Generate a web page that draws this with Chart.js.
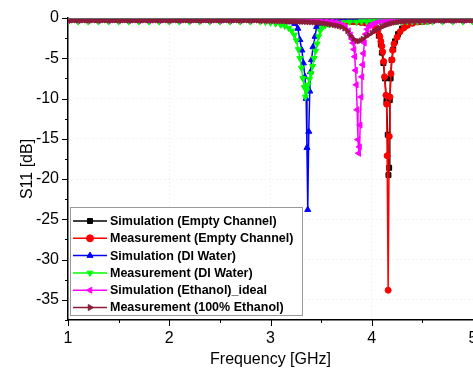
<!DOCTYPE html>
<html lang="en">
<head>
<meta charset="UTF-8">
<title>S11 vs Frequency</title>
<style>
    html, body { margin: 0; padding: 0; background: #fff; overflow: hidden; }
    #wrap { position: relative; width: 473px; height: 378px; overflow: hidden; }
</style>
<script src="https://cdn.jsdelivr.net/npm/chart.js"></script>
</head>
<body>
<div id="wrap"><canvas id="s11Chart" width="473" height="378"></canvas></div>
<script>
// tick positions
const xTicks = [1, 2, 3, 4, 5];
const xMinorTicks = [1.5, 2.5, 3.5, 4.5];
const yTicks = [0, -5, -10, -15, -20, -25, -30, -35];
const yMinorTicks = [-2.5, -7.5, -12.5, -17.5, -22.5, -27.5, -32.5, -37.5];

// Simulation (Empty Channel)
const simEmptyFreq = [1.0,1.1,1.2,1.3,1.4,1.5,1.6,1.7,1.8,1.9,2.0,2.1,2.2,2.3,2.4,2.5,2.6,2.7,2.8,2.9,
    3.0,3.05,3.1,3.15,3.2,3.25,3.3,3.35,3.4,3.45,3.5,3.55,3.6,3.65,3.7,3.75,3.8,3.85,3.9,3.95,
    4.0,4.04,4.07,4.09,4.1,4.115,4.13,4.145,4.158,4.165,4.172,4.178,4.186,4.196,4.212,4.23,4.26,4.3,
    4.35,4.4,4.45,4.5,4.55,4.6,4.7,4.8,4.9,5.0];
const simEmptyS11 = [-0.25,-0.25,-0.25,-0.25,-0.25,-0.25,-0.25,-0.25,-0.25,-0.25,
    -0.25,-0.25,-0.25,-0.25,-0.25,-0.25,-0.25,-0.25,-0.25,-0.25,
    -0.25,-0.25,-0.25,-0.25,-0.25,-0.25,-0.25,-0.25,-0.25,-0.3,-0.3,-0.3,-0.3,-0.35,-0.35,-0.4,-0.45,-0.5,-0.55,-0.65,
    -0.8,-1.3,-2.2,-3.3,-4.3,-5.6,-7.5,-10.3,-14.5,-19.5,-18.6,-10.2,-7.5,-5.2,-3.9,-2.9,-2.0,-1.3,
    -0.9,-0.65,-0.5,-0.45,-0.4,-0.35,-0.3,-0.3,-0.25,-0.25];

// Measurement (Empty Channel)
const measEmptyFreq = [1.0,1.1,1.2,1.3,1.4,1.5,1.6,1.7,1.8,1.9,2.0,2.1,2.2,2.3,2.4,2.5,2.6,2.7,2.8,2.9,
    3.0,3.05,3.1,3.15,3.2,3.25,3.3,3.35,3.4,3.45,3.5,3.55,3.6,3.65,3.7,3.75,3.8,3.85,3.9,3.95,
    4.0,4.03,4.06,4.08,4.09,4.1,4.108,4.118,4.126,4.14,4.147,4.152,4.162,4.173,4.18,4.19,4.2,4.206,
    4.22,4.25,4.28,4.32,4.35,4.4,4.45,4.5,4.55,4.6,4.7,4.8,4.9,5.0];
const measEmptyS11 = [-0.3,-0.3,-0.3,-0.3,-0.3,-0.3,-0.3,-0.3,-0.3,-0.3,
    -0.3,-0.3,-0.3,-0.3,-0.3,-0.3,-0.3,-0.3,-0.3,-0.3,
    -0.3,-0.3,-0.3,-0.3,-0.3,-0.3,-0.3,-0.3,-0.3,-0.3,-0.32,-0.34,-0.36,-0.38,-0.4,-0.42,-0.45,-0.5,-0.55,-0.6,
    -0.7,-1.0,-1.6,-2.3,-2.9,-3.5,-4.2,-5.4,-7.3,-9.6,-10.7,-17.1,-33.8,-14.7,-9.8,-6.9,-5.2,-4.0,
    -3.2,-2.4,-1.7,-1.2,-0.9,-0.65,-0.5,-0.45,-0.4,-0.35,-0.3,-0.3,-0.3,-0.3];

// Simulation (DI Water)
const simWaterFreq = [1.0,1.1,1.2,1.3,1.4,1.5,1.6,1.7,1.8,1.9,2.0,2.1,2.2,2.3,2.4,2.5,2.6,2.7,2.8,2.9,
    3.0,3.05,3.1,3.15,3.2,3.24,3.27,3.29,3.31,3.325,3.34,3.352,3.36,3.368,3.378,3.388,3.395,3.405,
    3.42,3.44,3.455,3.48,3.52,3.56,3.6,3.65,
    3.7,3.75,3.8,3.85,3.9,3.95,4.0,4.05,4.1,4.15,4.2,4.25,4.3,4.35,4.4,4.45,4.5,4.55,4.6,4.7,4.8,4.9,5.0];
const simWaterS11 = [-0.3,-0.3,-0.3,-0.3,-0.3,-0.3,-0.3,-0.3,-0.3,-0.3,
    -0.3,-0.3,-0.3,-0.3,-0.3,-0.3,-0.3,-0.3,-0.3,-0.3,
    -0.3,-0.32,-0.35,-0.4,-0.5,-0.7,-1.3,-2.7,-4.0,-5.6,-7.3,-10.0,-16.1,-23.8,-14.1,-9.1,-6.7,-5.2,
    -3.6,-2.3,-1.1,-0.7,-0.5,-0.42,-0.38,-0.35,
    -0.3,-0.3,-0.3,-0.3,-0.3,-0.3,-0.3,-0.3,-0.3,-0.3,-0.3,-0.3,-0.3,-0.3,-0.3,-0.3,-0.3,-0.3,-0.3,-0.3,-0.3,-0.3,-0.3];

// Measurement (DI Water)
const measWaterFreq = [1.0,1.1,1.2,1.3,1.4,1.5,1.6,1.7,1.8,1.9,2.0,2.1,2.2,2.3,2.4,2.5,2.6,2.7,2.8,2.9,
    2.95,3.0,3.05,3.1,3.14,3.18,3.21,3.235,3.255,3.275,3.29,3.305,3.32,3.333,3.345,3.358,3.37,3.385,3.4,3.415,
    3.43,3.445,3.46,3.475,3.49,3.51,3.54,3.58,3.62,3.67,3.72,3.78,3.85,
    3.9,3.95,4.0,4.05,4.1,4.15,4.2,4.25,4.3,4.35,4.4,4.45,4.5,4.55,4.6,4.7,4.8,4.9,5.0];
const measWaterS11 = [-0.45,-0.45,-0.45,-0.45,-0.45,-0.45,-0.45,-0.45,-0.45,-0.45,
    -0.45,-0.45,-0.45,-0.45,-0.45,-0.45,-0.45,-0.45,-0.45,-0.45,
    -0.5,-0.6,-0.7,-0.85,-1.0,-1.25,-1.6,-2.1,-2.8,-3.9,-5.0,-6.2,-7.5,-8.6,-9.8,-9.0,-8.3,-7.6,-6.9,-6.0,
    -5.0,-4.1,-3.2,-2.3,-1.6,-1.2,-0.95,-0.8,-0.7,-0.6,-0.55,-0.5,-0.5,
    -0.45,-0.45,-0.45,-0.45,-0.45,-0.45,-0.45,-0.45,-0.45,-0.45,-0.45,-0.45,-0.45,-0.45,-0.45,-0.45,-0.45,-0.45,-0.45];

// Simulation (Ethanol)_ideal
const simEthFreq = [1.0,1.1,1.2,1.3,1.4,1.5,1.6,1.7,1.8,1.9,2.0,2.1,2.2,2.3,2.4,2.5,2.6,2.7,2.8,2.9,
    2.95,3.0,3.05,3.1,3.15,3.2,3.25,3.3,3.35,3.4,3.45,3.5,3.55,3.6,
    3.64,3.68,3.71,3.74,3.77,3.79,3.805,3.815,3.825,3.832,3.84,3.848,3.856,3.864,3.872,3.879,3.886,3.895,
    3.903,3.91,3.918,3.928,3.94,3.955,3.975,4.0,4.03,4.07,4.12,4.17,
    4.2,4.25,4.3,4.35,4.4,4.45,4.5,4.55,4.6,4.7,4.8,4.9,5.0];
const simEthS11 = [-0.3,-0.3,-0.3,-0.3,-0.3,-0.3,-0.3,-0.3,-0.3,-0.3,
    -0.3,-0.3,-0.3,-0.3,-0.3,-0.3,-0.3,-0.3,-0.3,-0.3,
    -0.3,-0.3,-0.3,-0.3,-0.3,-0.3,-0.3,-0.3,-0.3,-0.3,-0.3,-0.35,-0.38,-0.45,
    -0.55,-0.7,-0.9,-1.15,-1.6,-2.1,-2.6,-3.1,-3.9,-4.8,-6.5,-8.3,-11.4,-15.1,-16.8,-16.0,-13.3,-9.8,
    -7.3,-5.8,-4.4,-3.1,-2.0,-1.4,-1.0,-0.8,-0.65,-0.5,-0.42,-0.38,
    -0.35,-0.33,-0.3,-0.3,-0.3,-0.3,-0.3,-0.3,-0.3,-0.3,-0.3,-0.3,-0.3];

// Measurement (100% Ethanol) - dense sweep
const measEthFreq = [
    1.0,1.025,1.05,1.075,1.1,1.125,1.15,1.175,1.2,1.225,1.25,1.275,1.3,1.325,1.35,1.375,1.4,1.425,1.45,1.475,
    1.5,1.525,1.55,1.575,1.6,1.625,1.65,1.675,1.7,1.725,1.75,1.775,1.8,1.825,1.85,1.875,1.9,1.925,1.95,1.975,
    2.0,2.025,2.05,2.075,2.1,2.125,2.15,2.175,2.2,2.225,2.25,2.275,2.3,2.325,2.35,2.375,2.4,2.425,2.45,2.475,
    2.5,2.525,2.55,2.575,2.6,2.625,2.65,2.675,2.7,2.725,2.75,2.775,2.8,2.825,2.85,
    2.875,2.9,2.925,2.95,2.975,3.0,3.025,3.05,3.075,3.1,3.125,3.15,3.175,3.2,3.225,3.25,
    3.275,3.3,3.325,3.35,3.375,3.4,3.425,3.45,3.475,3.5,
    3.525,3.55,3.575,3.6,3.625,3.65,3.675,3.7,3.73,3.76,
    3.79,3.82,3.85,3.87,3.89,3.91,3.94,3.97,4.0,4.02,
    4.04,4.06,4.08,4.1,4.12,4.14,4.16,4.18,4.2,4.225,
    4.25,4.275,4.3,4.325,4.35,4.375,4.4,4.425,
    4.45,4.475,4.5,4.525,4.55,4.575,4.6,4.625,4.65,4.675,4.7,4.725,4.75,4.775,4.8,4.825,4.85,4.875,4.9,4.925,
    4.95,4.975,5.0];
const measEthS11 = [
    -0.3,-0.3,-0.3,-0.3,-0.3,-0.3,-0.3,-0.3,-0.3,-0.3,-0.3,-0.3,-0.3,-0.3,-0.3,-0.3,-0.3,-0.3,-0.3,-0.3,
    -0.3,-0.3,-0.3,-0.3,-0.3,-0.3,-0.3,-0.3,-0.3,-0.3,-0.3,-0.3,-0.3,-0.3,-0.3,-0.3,-0.3,-0.3,-0.3,-0.3,
    -0.3,-0.3,-0.3,-0.3,-0.3,-0.3,-0.3,-0.3,-0.3,-0.3,-0.3,-0.3,-0.3,-0.3,-0.3,-0.3,-0.3,-0.3,-0.3,-0.3,
    -0.3,-0.3,-0.3,-0.3,-0.3,-0.3,-0.3,-0.3,-0.3,-0.3,-0.3,-0.3,-0.3,-0.3,-0.3,
    -0.31,-0.32,-0.33,-0.34,-0.35,-0.36,-0.37,-0.38,-0.39,-0.4,-0.41,-0.42,-0.43,-0.44,-0.45,-0.46,
    -0.47,-0.48,-0.49,-0.5,-0.515,-0.53,-0.545,-0.56,-0.59,-0.62,
    -0.66,-0.7,-0.76,-0.82,-0.88,-0.95,-1.02,-1.1,-1.3,-1.65,
    -2.2,-2.6,-2.85,-2.9,-2.8,-2.6,-2.35,-2.1,-1.85,-1.7,
    -1.55,-1.4,-1.25,-1.12,-1.0,-0.9,-0.8,-0.72,-0.65,-0.58,
    -0.52,-0.48,-0.45,-0.42,-0.4,-0.37,-0.35,-0.34,
    -0.33,-0.32,-0.3,-0.3,-0.3,-0.3,-0.3,-0.3,-0.3,-0.3,-0.3,-0.3,-0.3,-0.3,-0.3,-0.3,-0.3,-0.3,-0.3,-0.3,
    -0.3,-0.3,-0.3];

const FONT = '"Liberation Sans", Arial, sans-serif';

function toPoints(xs, ys) {
    return xs.map((x, i) => ({ x: x, y: ys[i] }));
}

function series(label, xs, ys, color, style, rotation, radius, order) {
    return {
        label: label,
        data: toPoints(xs, ys),
        borderColor: color,
        backgroundColor: color,
        pointBackgroundColor: color,
        pointBorderColor: color,
        borderWidth: 1.5,
        pointStyle: style,
        pointRotation: rotation,
        pointRadius: radius,
        pointBorderWidth: 1,
        tension: 0,
        order: order
    };
}

// ticks, top frame line and legend box drawn on top of the plot
const overlay = {
    id: 'overlay',
    afterDraw(chart) {
        const ctx = chart.ctx;
        const area = chart.chartArea;
        const xs = chart.scales.x, ys = chart.scales.y;
        ctx.save();

        ctx.strokeStyle = '#666';
        ctx.lineWidth = 1;
        ctx.beginPath();
        ctx.moveTo(area.left, area.top + 0.5);
        ctx.lineTo(area.right, area.top + 0.5);
        ctx.stroke();

        ctx.strokeStyle = '#000';
        ctx.lineWidth = 1;
        const hTick = (v, len) => {
            const py = Math.round(ys.getPixelForValue(v)) + 0.5;
            ctx.beginPath(); ctx.moveTo(area.left - len, py); ctx.lineTo(area.left, py); ctx.stroke();
        };
        const vTick = (v, len) => {
            const px = Math.round(xs.getPixelForValue(v)) + 0.5;
            ctx.beginPath(); ctx.moveTo(px, area.bottom); ctx.lineTo(px, area.bottom + len); ctx.stroke();
        };
        yTicks.forEach(v => hTick(v, 6));
        yMinorTicks.forEach(v => hTick(v, 3));
        xTicks.forEach(v => vTick(v, 6));
        xMinorTicks.forEach(v => vTick(v, 3));

        // legend
        const lx = 70, ly = 207, lw = 232, lh = 108;
        ctx.fillStyle = '#fff';
        ctx.fillRect(lx, ly, lw, lh);
        ctx.strokeStyle = '#999';
        ctx.strokeRect(lx + 0.5, ly + 0.5, lw, lh);
        ctx.font = 'bold 12.5px ' + FONT;
        ctx.textBaseline = 'middle';
        chart.data.datasets.forEach((ds, i) => {
            const cy = ly + 14 + i * 17.3;
            ctx.strokeStyle = ds.borderColor;
            ctx.lineWidth = 1.5;
            ctx.beginPath(); ctx.moveTo(lx + 3, cy); ctx.lineTo(lx + 37, cy); ctx.stroke();
            ctx.fillStyle = ds.pointBackgroundColor;
            ctx.strokeStyle = ds.pointBorderColor;
            ctx.lineWidth = 1;
            Chart.helpers.drawPoint(ctx, {
                pointStyle: ds.pointStyle, radius: 3.5,
                rotation: ds.pointRotation, borderWidth: 1
            }, lx + 20, cy);
            ctx.fillStyle = '#000';
            ctx.fillText(ds.label, lx + 40, cy + 0.5);
        });
        ctx.restore();
    }
};

new Chart(document.getElementById('s11Chart'), {
    type: 'line',
    data: {
        datasets: [
            series('Simulation (Empty Channel)', simEmptyFreq, simEmptyS11, '#000000', 'rect', 0, 3.5, 6),
            series('Measurement (Empty Channel)', measEmptyFreq, measEmptyS11, '#ff0000', 'circle', 0, 3, 5),
            series('Simulation (DI Water)', simWaterFreq, simWaterS11, '#0000ff', 'triangle', 0, 3.5, 4),
            series('Measurement (DI Water)', measWaterFreq, measWaterS11, '#00ff00', 'triangle', 180, 3.5, 3),
            series('Simulation (Ethanol)_ideal', simEthFreq, simEthS11, '#ff00ff', 'triangle', 270, 3.5, 2),
            series('Measurement (100% Ethanol)', measEthFreq, measEthS11, '#8b1c3a', 'triangle', 90, 3, 1)
        ]
    },
    options: {
        responsive: false,
        animation: false,
        events: [],
        layout: { autoPadding: false, padding: { top: 18, right: -3, left: 0, bottom: 0 } },
        plugins: { legend: { display: false }, tooltip: { enabled: false } },
        scales: {
            x: {
                type: 'linear',
                min: 1,
                max: 5,
                afterBuildTicks: s => { s.ticks = xTicks.map(v => ({ value: v })); },
                afterFit: s => { s.height = 58; s.paddingLeft = 0; s.paddingRight = 0; },
                grid: { color: '#e8e8e8', lineWidth: 1, drawTicks: false },
                border: { color: '#000', width: 1.5, dash: [1, 3] },
                ticks: { color: '#000', font: { family: FONT, size: 16 }, padding: 9, maxRotation: 0, autoSkip: false },
                title: { display: true, text: 'Frequency [GHz]', color: '#000', font: { family: FONT, size: 16 }, padding: { top: 0, bottom: 9 } }
            },
            y: {
                min: -37.5,
                max: 0,
                afterBuildTicks: s => { s.ticks = yTicks.map(v => ({ value: v })); },
                afterFit: s => { s.width = 68; s.paddingTop = 0; s.paddingBottom = 0; },
                grid: { color: '#e8e8e8', lineWidth: 1, drawTicks: false },
                border: { color: '#000', width: 1.5, dash: [1, 3] },
                ticks: { color: '#000', font: { family: FONT, size: 16 }, padding: 9 },
                title: { display: true, text: 'S11 [dB]', color: '#000', font: { family: FONT, size: 16 }, padding: { top: 18, bottom: 0 } }
            }
        }
    },
    plugins: [overlay]
});
</script>
</body>
</html>
